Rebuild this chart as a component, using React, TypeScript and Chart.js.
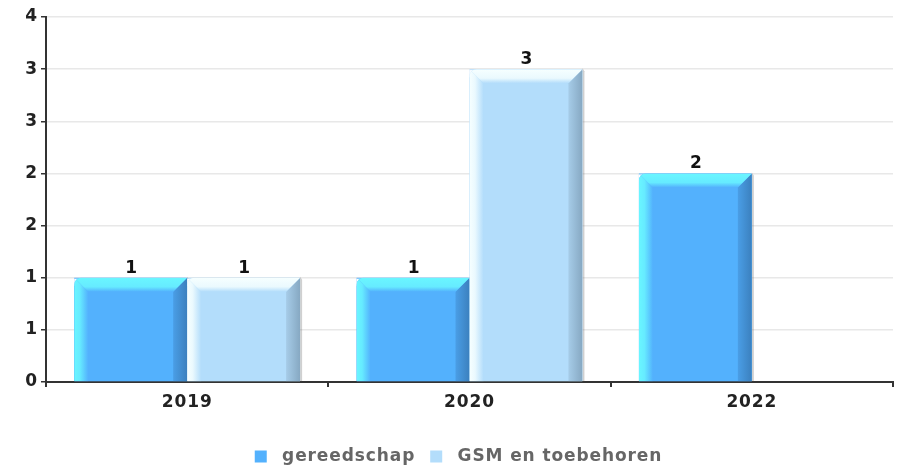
import React, { useEffect, useRef } from "react";
import { Chart, registerables } from "chart.js";
Chart.register(...registerables);

const categories = ["2019", "2020", "2022"];
const seriesNames = ["gereedschap", "GSM en toebehoren"];
const gereedschap = [1, 1, 2];
const gsmToebehoren = [1, 3, null];
const yMax = 3.5;
const yStep = 0.5;

const FONT = "'DejaVu Sans', sans-serif";
const SPACING = "0.9px";

const palettes = [
  { main: "#53B1FD", light: "#6AF6FF", mid: "#66EBFF", dark1: "#4A9EE6", dark2: "#3B80BE" },
  { main: "#B3DDFB", light: "#F6FFFF", mid: "#EAF9FE", dark1: "#A6CCE8", dark2: "#86A8C2" },
];

const spacingPlugin = {
  id: "spacing",
  beforeInit(chart: any) { chart.ctx.letterSpacing = SPACING; },
  beforeUpdate(chart: any) { chart.ctx.letterSpacing = SPACING; },
  beforeDraw(chart: any) { chart.ctx.letterSpacing = SPACING; },
  afterLayout(chart: any) {
    const lg = chart.legend;
    if (lg) { lg.left += 16; lg.width -= 16; }
  },
};

const bevelPlugin = {
  id: "bevel",
  afterDatasetsDraw(chart: any) {
    const ctx = chart.ctx;
    const b = 14;
    chart.data.datasets.forEach((ds: any, di: number) => {
      const meta = chart.getDatasetMeta(di);
      const pal = palettes[di];
      meta.data.forEach((bar: any, i: number) => {
        const v = ds.data[i];
        if (v == null || v === 0) return;
        const { x, y, base, width } = bar.getProps(["x", "y", "base", "width"], true);
        const x0 = x - width / 2;
        const x1 = x + width / 2;
        const top = y;
        ctx.save();
        // shadow on right
        ctx.fillStyle = "rgba(120,120,120,0.35)";
        ctx.beginPath();
        ctx.moveTo(x1, top - 1);
        ctx.lineTo(x1 + 2, top + 2);
        ctx.lineTo(x1 + 2, base);
        ctx.lineTo(x1, base);
        ctx.closePath();
        ctx.fill();
        // repaint body with rounded top-left corner
        ctx.fillStyle = "#fff";
        ctx.fillRect(x0, top + 1, 7, 7);
        ctx.beginPath();
        ctx.roundRect(x0, top, width, base - top, [7, 2, 0, 0]);
        ctx.clip();
        ctx.fillStyle = pal.main;
        ctx.fillRect(x0, top, width, base - top);
        // left strip
        let g = ctx.createLinearGradient(x0, 0, x0 + b, 0);
        g.addColorStop(0, pal.light);
        g.addColorStop(0.4, pal.mid);
        g.addColorStop(1, pal.main);
        ctx.fillStyle = g;
        ctx.beginPath();
        ctx.moveTo(x0, top);
        ctx.lineTo(x0 + b, top + b);
        ctx.lineTo(x0 + b, base);
        ctx.lineTo(x0, base);
        ctx.closePath();
        ctx.fill();
        // right strip
        g = ctx.createLinearGradient(x1 - b, 0, x1, 0);
        g.addColorStop(0, pal.dark1);
        g.addColorStop(1, pal.dark2);
        ctx.fillStyle = g;
        ctx.beginPath();
        ctx.moveTo(x1, top);
        ctx.lineTo(x1, base);
        ctx.lineTo(x1 - b, base);
        ctx.lineTo(x1 - b, top + b);
        ctx.closePath();
        ctx.fill();
        // top band
        g = ctx.createLinearGradient(0, top, 0, top + b);
        g.addColorStop(0, pal.light);
        g.addColorStop(0.65, pal.mid);
        g.addColorStop(1, pal.main);
        ctx.fillStyle = g;
        ctx.beginPath();
        ctx.moveTo(x0, top);
        ctx.lineTo(x1, top);
        ctx.lineTo(x1 - b, top + b);
        ctx.lineTo(x0 + b, top + b);
        ctx.closePath();
        ctx.fill();
        ctx.restore();
        // value label
        ctx.save();
        ctx.fillStyle = "#111";
        ctx.font = `bold 17px ${FONT}`;
        ctx.textAlign = "center";
        ctx.textBaseline = "bottom";
        ctx.fillText(String(v), x + 1, top - 1);
        ctx.restore();
      });
    });
  },
};

export default function App() {
  const ref = useRef<HTMLCanvasElement | null>(null);
  useEffect(() => {
    if (!ref.current) return;
    const chart = new Chart(ref.current, {
      type: "bar",
      data: {
        labels: categories,
        datasets: [
          { label: seriesNames[0], data: gereedschap, backgroundColor: palettes[0].main, borderWidth: 0 },
          { label: seriesNames[1], data: gsmToebehoren, backgroundColor: palettes[1].main, borderWidth: 0 },
        ],
      },
      options: {
        responsive: false,
        animation: false,
        maintainAspectRatio: false,
        layout: { padding: { left: 8, right: 10, top: 17, bottom: -6 } },
        datasets: { bar: { categoryPercentage: 0.8, barPercentage: 1.0 } },
        plugins: {
          tooltip: { enabled: false },
          legend: {
            position: "bottom",
            labels: {
              boxWidth: 12,
              boxHeight: 12,
              padding: 15,
              color: "#666",
              font: { family: FONT, size: 17, weight: "bold" },
              generateLabels: (chart: any) => {
                const items = Chart.defaults.plugins.legend.labels.generateLabels(chart);
                return items.map((it: any) => ({ ...it, text: " " + it.text }));
              },
            },
          },
        },
        scales: {
          x: {
            grid: { drawOnChartArea: false, offset: true, tickLength: 5, tickColor: "#333", lineWidth: 2 },
            border: { color: "#333", width: 2 },
            ticks: { color: "#222", padding: 5, font: { family: FONT, size: 17, weight: "bold" } },
            afterFit: (s: any) => { s.height = 51; },
          },
          y: {
            min: 0,
            max: yMax,
            grid: { color: "#e8e8e8", lineWidth: 1.5, tickLength: 5, tickColor: "#333" },
            border: { color: "#333", width: 2 },
            ticks: {
              stepSize: yStep,
              color: "#222",
              padding: 3,
              font: { family: FONT, size: 17, weight: "bold" },
              callback: (v: any) => String(Math.round(Number(v))),
            },
            afterFit: (s: any) => { s.width = 38; },
          },
        },
      },
      plugins: [spacingPlugin, bevelPlugin],
    });
    return () => chart.destroy();
  }, []);
  return (
    <div style={{ position: "absolute", left: 0, top: 0, width: 903, height: 469 }}>
      <canvas ref={ref} width={903} height={469} />
    </div>
  );
}
